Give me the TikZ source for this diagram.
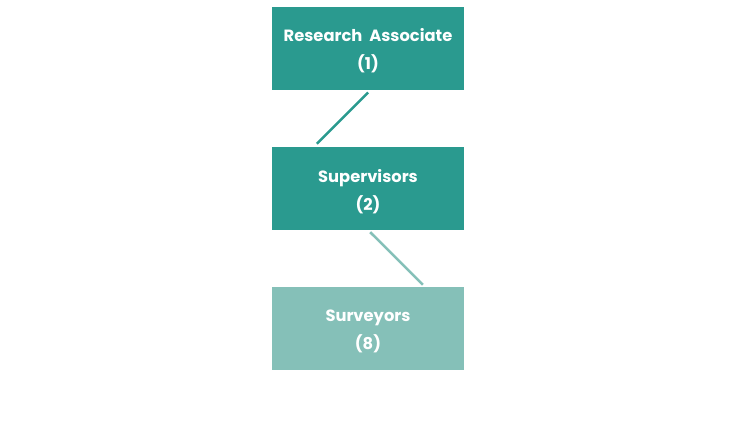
\documentclass[tikz,border=0pt]{standalone}
\usepackage{fontspec}
\setmainfont{Poppins}
\definecolor{tealdark}{HTML}{2A9A8F}
\definecolor{teallight}{HTML}{85C0B8}
\tikzset{
  x=1pt,y=-1pt,
  box/.style={minimum width=192pt,minimum height=83pt,inner sep=0pt,
    label={[boxtext]center:#1}},
  boxtext/.style={text=white,yshift=-3pt,
    font=\fontsize{16.3}{28}\selectfont\bfseries,align=center},
  link/.style={line width=2.5pt,shorten >=4pt,shorten <=4pt}
}
\begin{document}
\begin{tikzpicture}
\useasboundingbox (0,0) rectangle (736,421);
\node[box={Research\ \ Associate\\(1)},fill=tealdark] (ra) at (368,48) {};
\node[box={Supervisors\\(2)},fill=tealdark] (sup) at (368,188.3) {};
\node[box={Surveyors\\(8)},fill=teallight] (sur) at (368,328.5) {};
\draw[link,draw=tealdark] ([xshift=3pt]ra.south) -- ([xshift=-54pt]sup.north);
\draw[link,draw=teallight,shorten <=3pt,shorten >=3pt] (sup.south) -- ([xshift=57pt]sur.north);
\end{tikzpicture}
\end{document}
